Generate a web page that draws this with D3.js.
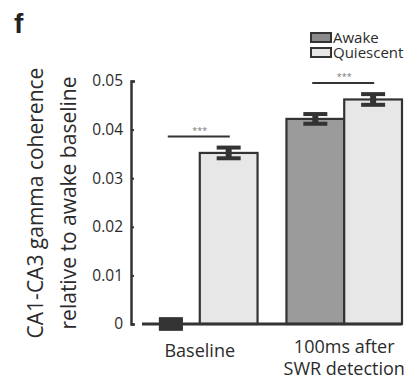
<!DOCTYPE html>
<html>
<head>
<meta charset="utf-8">
<script src="https://cdn.jsdelivr.net/npm/d3@7"></script>
<style>
  body { margin: 0; background: #fff; }
  text { font-family: "Open Sans", sans-serif; fill: #2b2b2b; }
</style>
</head>
<body>
<svg id="chart" width="411" height="379"></svg>
<script>
// data
var categories = ["Baseline", "100ms after SWR detection"];
var categoryLines = [["Baseline"], ["100ms after", "SWR detection"]];
var series = ["Awake", "Quiescent"];
var awakeValues = [0, 0.0422];
var quiescentValues = [0.0352, 0.0462];
var awakeErr = [0.001, 0.001];
var quiescentErr = [0.0011, 0.0011];
var yTicks = [0, 0.01, 0.02, 0.03, 0.04, 0.05];
var sigLabels = ["***", "***"];

var colors = { Awake: "#9b9b9b", Quiescent: "#e7e7e7" };
var legendFill = { Awake: "#8a8a8a", Quiescent: "#e7e7e7" };
var dark = "#333";

var svg = d3.select("#chart");

var y = d3.scaleLinear().domain([0, 0.05]).range([324, 81]);
var x0 = d3.scaleBand().domain(categories).range([142, 402]).paddingInner(0.2).paddingOuter(0);
var x1 = d3.scaleBand().domain(series).range([0, x0.bandwidth()]);

var rows = [];
categories.forEach(function(c, i) {
  rows.push({cat: c, s: "Awake", v: awakeValues[i], e: awakeErr[i]});
  rows.push({cat: c, s: "Quiescent", v: quiescentValues[i], e: quiescentErr[i]});
});

// panel letter
svg.append("text")
  .attr("x", 14).attr("y", 33)
  .style("font-family", "'Liberation Sans', Arial, sans-serif")
  .style("font-weight", "bold")
  .attr("font-size", "28px")
  .style("fill", "#222")
  .text("f");

// bars
svg.append("g").selectAll("rect")
  .data(rows.filter(function(d) { return d.v > 0; }))
  .join("rect")
  .attr("x", function(d) { return x0(d.cat) + x1(d.s); })
  .attr("y", function(d) { return y(d.v); })
  .attr("width", x1.bandwidth())
  .attr("height", function(d) { return y(0) - y(d.v); })
  .attr("fill", function(d) { return colors[d.s]; })
  .attr("stroke", dark)
  .attr("stroke-width", 2.2);

// baseline of bars
svg.append("line")
  .attr("x1", x0.range()[0]).attr("x2", x0.range()[1])
  .attr("y1", y(0)).attr("y2", y(0))
  .attr("stroke", dark).attr("stroke-width", 3);

// error bars (a zero bar shows only as a solid block)
var eb = svg.append("g").selectAll("g")
  .data(rows)
  .join("g")
  .attr("transform", function(d) { return "translate(" + (x0(d.cat) + x1(d.s) + x1.bandwidth() / 2) + ",0)"; });

eb.append("line")
  .attr("y1", function(d) { return y(d.v + d.e); })
  .attr("y2", function(d) { return y(d.v - d.e); })
  .attr("stroke", dark)
  .attr("stroke-width", function(d) { return d.v === 0 ? 24 : 6; });
eb.selectAll(".cap")
  .data(function(d) { return [d.v + d.e, d.v - d.e]; })
  .join("line")
  .attr("class", "cap")
  .attr("x1", -12).attr("x2", 12)
  .attr("y1", function(v) { return y(v); })
  .attr("y2", function(v) { return y(v); })
  .attr("stroke", dark).attr("stroke-width", 4);

// y axis
var yAxis = svg.append("g")
  .attr("transform", "translate(131,0)")
  .call(d3.axisLeft(y).tickValues(yTicks)
    .tickFormat(function(d) { return d === 0 ? "0" : d3.format(".2f")(d); })
    .tickSizeInner(-3).tickSizeOuter(-4).tickPadding(8));
yAxis.select(".domain").attr("stroke", dark).attr("stroke-width", 2.5);
yAxis.selectAll(".tick line").attr("stroke", dark).attr("stroke-width", 2);
yAxis.selectAll(".tick text")
  .attr("font-size", "15.5px")
  .style("font-family", "'Open Sans', sans-serif")
  .style("fill", "#2b2b2b");

// y label
var yl = svg.append("text")
  .attr("transform", "translate(0,203) rotate(-90)")
  .attr("text-anchor", "middle")
  .attr("font-size", "21px");
yl.append("tspan").attr("x", 0).attr("y", 43).text("CA1-CA3 gamma coherence");
yl.append("tspan").attr("x", 0).attr("y", 76).text("relative to awake baseline");

// category labels
categories.forEach(function(c, i) {
  var lines = categoryLines[i];
  var t = svg.append("text")
    .attr("text-anchor", "middle")
    .attr("font-size", "18px");
  var cx = x0(c) + x0.bandwidth() / 2;
  var base = lines.length === 1 ? 357 : 353;
  lines.forEach(function(l, j) {
    t.append("tspan").attr("x", cx).attr("y", base + j * 22).text(l);
  });
});

// significance markers
categories.forEach(function(c, i) {
  var top = d3.max([awakeValues[i] + awakeErr[i], quiescentValues[i] + quiescentErr[i]]);
  var ly = y(top) - 11;
  var cx = x0(c) + x0.bandwidth() / 2;
  svg.append("line")
    .attr("x1", cx - 32).attr("x2", cx + 30)
    .attr("y1", ly).attr("y2", ly)
    .attr("stroke", dark).attr("stroke-width", 2);
  svg.append("text")
    .attr("x", cx).attr("y", ly - 3)
    .attr("text-anchor", "middle")
    .attr("font-size", "9px")
    .style("fill", "#777")
    .text(sigLabels[i]);
});

// legend
var lg = svg.append("g").attr("transform", "translate(311,33)");
series.forEach(function(s, i) {
  lg.append("rect")
    .attr("x", 0).attr("y", i * 15)
    .attr("width", 20).attr("height", 9)
    .attr("fill", legendFill[s])
    .attr("stroke", dark).attr("stroke-width", 2);
  lg.append("text")
    .attr("x", 22).attr("y", i * 15 + 10)
    .attr("font-size", "15px")
    .text(s);
});
</script>
</body>
</html>
